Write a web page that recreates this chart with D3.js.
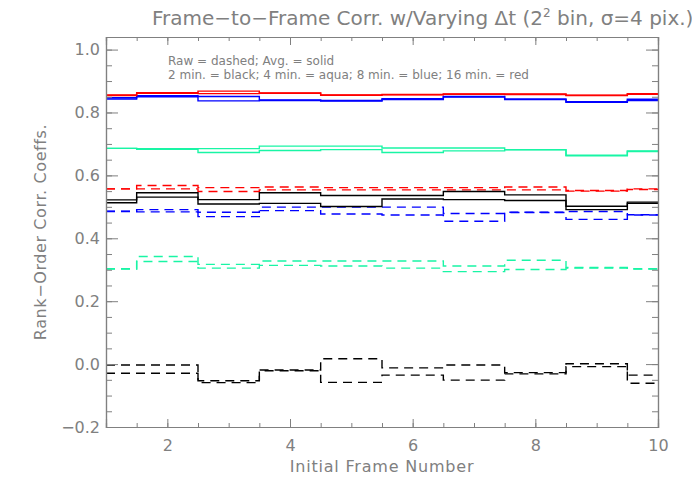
<!DOCTYPE html>
<html><head><meta charset="utf-8">
<script src="https://cdn.jsdelivr.net/npm/d3@7"></script>
<style>
html,body{margin:0;padding:0;background:#fff;}
svg text{font-family:"DejaVu Sans",sans-serif;fill:#808080;}
</style></head>
<body><svg id="chart" width="692" height="494"></svg>
<script>
const frames = [1,2,3,4,5,6,7,8,9,10];
const xTicks = [2,4,6,8,10];
const yTicks = [-0.2,0.0,0.2,0.4,0.6,0.8,1.0];
const titleText = ["Frame\u2212to\u2212Frame Corr. w/Varying \u0394t (2","2"," bin, \u03c3=4 pix.)"];
const xLabel = "Initial Frame Number";
const yLabel = "Rank\u2212Order Corr. Coeffs.";
const legendLines = ["Raw = dashed; Avg. = solid","2 min. = black; 4 min. = aqua; 8 min. = blue; 16 min. = red"];

// Averaged (solid) series, two per colour
const red_avg_a   = [0.856,0.863,0.868,0.862,0.856,0.857,0.859,0.859,0.855,0.860];
const red_avg_b   = [0.854,0.861,0.860,0.861,0.855,0.856,0.858,0.857,0.854,0.858];
const blue_avg_a  = [0.847,0.853,0.851,0.840,0.838,0.844,0.851,0.843,0.834,0.842];
const blue_avg_b  = [0.843,0.850,0.837,0.838,0.836,0.841,0.849,0.841,0.832,0.838];
const aqua_avg_a  = [0.686,0.685,0.685,0.693,0.693,0.687,0.687,0.682,0.664,0.678];
const aqua_avg_b  = [0.686,0.683,0.673,0.679,0.682,0.673,0.678,0.681,0.662,0.676];
const black_avg_a = [0.522,0.545,0.523,0.545,0.536,0.536,0.549,0.538,0.502,0.515];
const black_avg_b = [0.513,0.531,0.509,0.511,0.501,0.525,0.523,0.520,0.491,0.511];
// Raw (dashed) series, two per colour
const red_raw_a   = [0.557,0.568,0.561,0.563,0.561,0.561,0.561,0.563,0.552,0.557];
const red_raw_b   = [0.557,0.557,0.549,0.554,0.554,0.554,0.554,0.554,0.550,0.555];
const blue_raw_a  = [0.486,0.491,0.483,0.499,0.499,0.499,0.479,0.483,0.485,0.475];
const blue_raw_b  = [0.485,0.484,0.469,0.488,0.477,0.474,0.454,0.482,0.460,0.474];
const aqua_raw_a  = [0.303,0.342,0.317,0.328,0.328,0.328,0.312,0.330,0.307,0.303];
const aqua_raw_b  = [0.302,0.326,0.305,0.314,0.312,0.305,0.294,0.301,0.305,0.302];
const black_raw_a = [-0.003,-0.003,-0.053,-0.019,0.017,-0.012,-0.003,-0.027,0.001,-0.035];
const black_raw_b = [-0.029,-0.029,-0.059,-0.021,-0.058,-0.035,-0.051,-0.031,-0.008,-0.061];

const colors = {black:"#000000", aqua:"#19f5a5", blue:"#0000ff", red:"#ff0000"};
const series = [
  {v:black_raw_a,c:"black",d:true},{v:black_raw_b,c:"black",d:true},
  {v:aqua_raw_a,c:"aqua",d:true},{v:aqua_raw_b,c:"aqua",d:true},
  {v:blue_raw_a,c:"blue",d:true},{v:blue_raw_b,c:"blue",d:true},
  {v:red_raw_a,c:"red",d:true},{v:red_raw_b,c:"red",d:true},
  {v:black_avg_a,c:"black",d:false},{v:black_avg_b,c:"black",d:false},
  {v:aqua_avg_a,c:"aqua",d:false},{v:aqua_avg_b,c:"aqua",d:false},
  {v:blue_avg_a,c:"blue",d:false},{v:blue_avg_b,c:"blue",d:false},
  {v:red_avg_a,c:"red",d:false},{v:red_avg_b,c:"red",d:false}
];

const L=106,R=658,T=37,B=427;
const svg = d3.select("#chart");
const x = d3.scaleLinear().domain([1,10]).range([L,R]);
const y = d3.scaleLinear().domain([-0.2,1.04]).range([B,T]);
const axisCol = "#808080";

const line = d3.line().x((d,i)=>x(frames[i])).y(d=>y(d)).curve(d3.curveStep);
svg.append("g").selectAll("path").data(series).join("path")
  .attr("d",s=>line(s.v)).attr("fill","none")
  .attr("stroke",s=>colors[s.c]).attr("stroke-width",1.4)
  .attr("stroke-dasharray",s=>s.d?"9,6":null);

// Axes (IDL-style box, ticks inward on all four sides)
const xMinor = d3.range(1,10.001,0.5);
const yMinor = d3.range(-0.2,1.0401,0.05);
const axBottom = d3.axisBottom(x).tickValues(xMinor).tickSize(-4).tickFormat("");
const axTop = d3.axisTop(x).tickValues(xMinor).tickSize(-4).tickFormat("");
const axLeft = d3.axisLeft(y).tickValues(yMinor).tickSize(-6).tickFormat("");
const axRight = d3.axisRight(y).tickValues(yMinor).tickSize(-6).tickFormat("");
const bMaj = d3.axisBottom(x).tickValues(xTicks).tickSize(-8).tickPadding(13).tickFormat(d3.format("d"));
const tMaj = d3.axisTop(x).tickValues(xTicks).tickSize(-8).tickFormat("");
const lMaj = d3.axisLeft(y).tickValues(yTicks).tickSize(-12).tickPadding(6).tickFormat(d=>d3.format(".1f")(d).replace("-","\u2212"));
const rMaj = d3.axisRight(y).tickValues(yTicks).tickSize(-12).tickFormat("");
function draw(ax, tr){
  const g = svg.append("g").attr("transform",tr).call(ax);
  g.selectAll("path.domain").attr("stroke",axisCol).attr("stroke-width",1.2);
  g.selectAll(".tick line").attr("stroke",axisCol);
  g.selectAll(".tick text").attr("fill","#808080").style("font-family","DejaVu Sans").style("font-size","16px");
  return g;
}
draw(axBottom,`translate(0,${B})`); draw(axTop,`translate(0,${T})`);
draw(axLeft,`translate(${L},0)`); draw(axRight,`translate(${R},0)`);
draw(bMaj,`translate(0,${B})`); draw(tMaj,`translate(0,${T})`);
draw(lMaj,`translate(${L},0)`); draw(rMaj,`translate(${R},0)`);

// Title
const tt = svg.append("text").attr("x",152).attr("y",25).style("font-size","20px");
tt.append("tspan").text(titleText[0]);
tt.append("tspan").attr("dy",-8).style("font-size","12px").text(titleText[1]);
tt.append("tspan").attr("dy",8).text(titleText[2]);

// Legend text
svg.selectAll("text.leg").data(legendLines).join("text").attr("class","leg")
  .attr("x",168).attr("y",(d,i)=>65+i*14).style("font-size","12px").text(d=>d);

svg.append("text").attr("x",(L+R)/2).attr("y",472).attr("text-anchor","middle")
  .style("font-size","16px").style("letter-spacing","0.8px").text(xLabel);
svg.append("text").attr("transform",`translate(46,${(T+B)/2}) rotate(-90)`)
  .attr("text-anchor","middle").style("font-size","16px").style("letter-spacing","0.6px").text(yLabel);
</script></body></html>
